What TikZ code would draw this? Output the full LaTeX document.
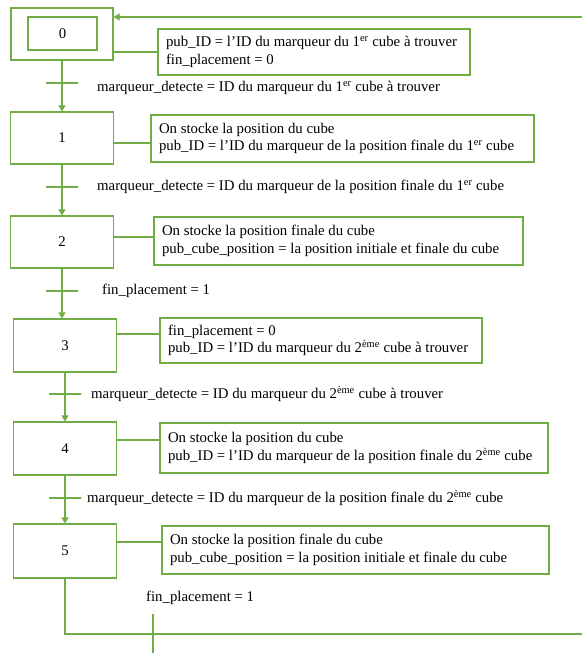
\documentclass[tikz,border=0pt]{standalone}
\usepackage{fontspec}
\setmainfont{Liberation Serif}
\usetikzlibrary{arrows.meta}
\definecolor{GrafGreen}{RGB}{112,173,71}
\tikzset{
  etape/.style={draw=GrafGreen, line width=1.1pt, minimum width=103pt, minimum height=52pt},
  action/.style={draw=GrafGreen, line width=1.1pt, align=left, inner xsep=8pt, inner ysep=0pt,
    execute at begin node={\spaceskip=0pt\xspaceskip=0pt\hyphenpenalty=10000}},
  barre/.style={draw=GrafGreen, line width=1.1pt, minimum width=32pt, minimum height=0pt, inner sep=0pt},
  cond/.style={anchor=west, inner sep=0pt},
  liaison/.style={GrafGreen, line width=1.1pt},
  fleche/.style={liaison, -{Triangle[length=6pt,width=7pt]}}
}

\begin{document}
\begin{tikzpicture}[x=1pt, y=-1pt, font=\fontsize{14.8}{17.5}\selectfont]
    \useasboundingbox (0,0) rectangle (582,653);
    % Steps
    \node[etape, minimum width=102pt] (e0) at (62,34) {};
    \node[etape, minimum width=69pt, minimum height=33pt] (e0in) at (62.5,33.5) {0};
    \node[etape] (e1) at (62,138) {1};
    \node[etape] (e2) at (62,242) {2};
    \node[etape, minimum height=53pt] (e3) at (65,345.5) {3};
    \node[etape, minimum height=53pt] (e4) at (65,448.5) {4};
    \node[etape, minimum height=54pt] (e5) at (65,551) {5};

    % Actions
    \node[action, text width=296pt, minimum height=46pt] (a0) at (314,52) {pub\_ID = l’ID du marqueur du 1\textsuperscript{er} cube à trouver\\fin\_placement = 0};
    \node[action, text width=367pt, minimum height=47pt] (a1) at (342.5,138.5) {On stocke la position du cube\\pub\_ID = l’ID du marqueur de la position finale du 1\textsuperscript{er} cube};
    \node[action, text width=353pt, minimum height=48pt] (a2) at (338.5,241) {On stocke la position finale du cube\\pub\_cube\_position = la position initiale et finale du cube};
    \node[action, text width=306pt, minimum height=45pt] (a3) at (321,340.5) {fin\_placement = 0\\pub\_ID = l’ID du marqueur du 2\textsuperscript{ème} cube à trouver};
    \node[action, text width=372pt, minimum height=50pt] (a4) at (354,448) {On stocke la position du cube\\pub\_ID = l’ID du marqueur de la position finale du 2\textsuperscript{ème} cube};
    \node[action, text width=371pt, minimum height=48pt] (a5) at (355.5,550) {On stocke la position finale du cube\\pub\_cube\_position = la position initiale et finale du cube};

    % Links step -> action
    \draw[liaison] (a0.west) -- (a0.west -| e0.east);
    \draw[liaison] ([yshift=-4.5pt]a1.west) -- ([yshift=-4.5pt]a1.west -| e1.east);
    \draw[liaison] ([yshift=4pt]a2.west) -- ([yshift=4pt]a2.west -| e2.east);
    \draw[liaison] ([yshift=6.5pt]a3.west) -- ([yshift=6.5pt]a3.west -| e3.east);
    \draw[liaison] ([yshift=8pt]a4.west) -- ([yshift=8pt]a4.west -| e4.east);
    \draw[liaison] ([yshift=8pt]a5.west) -- ([yshift=8pt]a5.west -| e5.east);

    % Transitions
    \node[barre] (t0) at (e0.south |- 0,83) {};
    \node[barre] (t1) at (e1.south |- 0,187) {};
    \node[barre] (t2) at (e2.south |- 0,291) {};
    \node[barre] (t3) at (e3.south |- 0,394) {};
    \node[barre] (t4) at (e4.south |- 0,498) {};
    \node[barre, minimum width=0pt, minimum height=40pt] (t5) at (153,634) {};

    \node[cond] (c0) at (97,88) {marqueur\_detecte = ID du marqueur du 1\textsuperscript{er} cube à trouver};
    \node[cond] (c1) at (97,187) {marqueur\_detecte = ID du marqueur de la position finale du 1\textsuperscript{er} cube};
    \node[cond] (c2) at (102,291) {fin\_placement = 1};
    \node[cond] (c3) at (91,394) {marqueur\_detecte = ID du marqueur du 2\textsuperscript{ème} cube à trouver};
    \node[cond] (c4) at (87,498) {marqueur\_detecte = ID du marqueur de la position finale du 2\textsuperscript{ème} cube};
    \node[cond] (c5) at (146,598) {fin\_placement = 1};

    % Arrows
    \draw[fleche] (e0.south) -- (e1.north);
    \draw[fleche] (e1.south) -- (e2.north);
    \draw[fleche] (e2.south) -- (e2.south |- e3.north);
    \draw[fleche] (e3.south) -- (e4.north);
    \draw[fleche] (e4.south) -- (e5.north);

    % Loop back to step 0
    \coordinate (boucleBas) at (582,634);
    \coordinate (boucleHaut) at (582,17);
    \draw[liaison] (e5.south) |- (boucleBas);
    \draw[fleche] (boucleHaut) -- (boucleHaut -| e0.east);
\end{tikzpicture}
\end{document}
